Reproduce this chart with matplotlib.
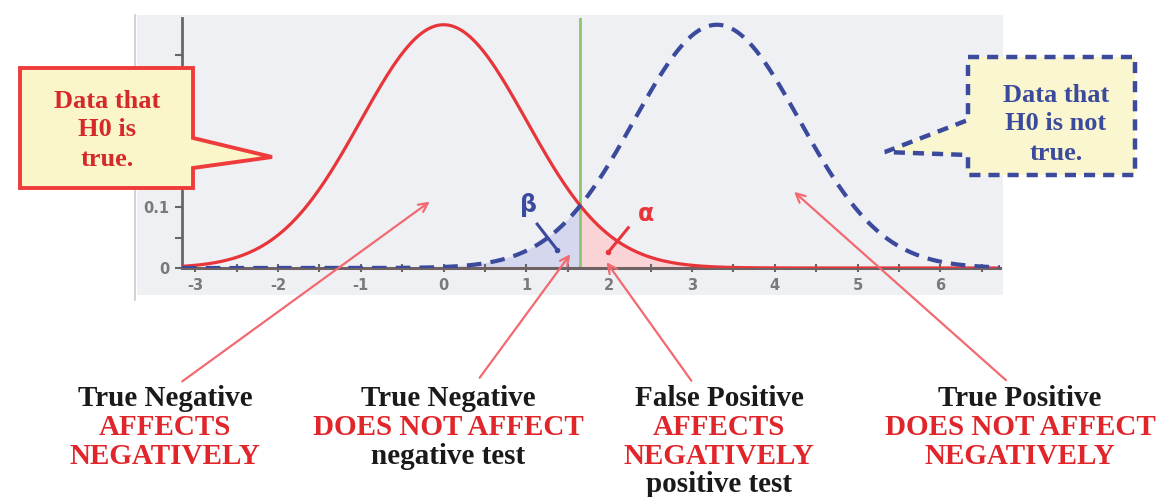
import numpy as np
import matplotlib
matplotlib.use("Agg")
from matplotlib import pyplot as plt
from matplotlib.patches import Polygon, Rectangle, FancyArrowPatch

# distributions shown in the chart
h0_mean, h0_sd = 0.0, 1.0
h1_mean, h1_sd = 3.3, 1.0
critical = 1.645

x_ticks = [-3, -2, -1, 0, 1, 2, 3, 4, 5, 6]
y_ticks = [0, 0.1, 0.2, 0.3]
y_tick_labels = ["0", "0.1", "", ""]  # upper labels sit under the callout

left_note = ["Data that", "H0 is", "true."]
right_note = ["Data that", "H0 is not", "true."]

captions = [
    [("True Negative", "k"), ("AFFECTS", "r"), ("NEGATIVELY", "r")],
    [("True Negative", "k"), ("DOES NOT AFFECT", "r"), ("negative test", "k")],
    [("False Positive", "k"), ("AFFECTS", "r"), ("NEGATIVELY", "r"), ("positive test", "k")],
    [("True Positive", "k"), ("DOES NOT AFFECT", "r"), ("NEGATIVELY", "r")],
]

W, H = 1160, 497
RED = "#e8353a"
BLUE = "#3b4a9c"
SERIF = ["Liberation Serif", "DejaVu Serif"]

plt.rcParams["axes.unicode_minus"] = False


def px(x, y):
    return (x / W, 1 - y / H)


def pdf(x, m, s):
    return np.exp(-0.5 * ((x - m) / s) ** 2) / (s * np.sqrt(2 * np.pi))


fig = plt.figure(figsize=(W / 100, H / 100), dpi=100)
fig.patch.set_facecolor("white")

# grey panel behind the plot
x0, y0 = px(137, 295)
x1, y1 = px(1003, 15)
fig.add_artist(Rectangle((x0, y0), x1 - x0, y1 - y0, transform=fig.transFigure,
                         facecolor="#eef0f4", edgecolor="none", zorder=-1))
fig.add_artist(plt.Line2D([135 / W, 135 / W], [1 - 300 / H, 1 - 15 / H],
                          transform=fig.transFigure, color="#c9c9c9", lw=1.2, zorder=-1))

ax = fig.add_axes([182 / W, 1 - 268 / H, (1000 - 182) / W, 250 / H])
ax.set_facecolor("#eef0f4")
ax.set_xlim(-3.16, 6.72)
ax.set_ylim(0, 0.41)

x = np.linspace(-3.16, 6.72, 600)
y0c = pdf(x, h0_mean, h0_sd)
y1c = pdf(x, h1_mean, h1_sd)

ax.fill_between(x, 0, y1c, where=x <= critical, color="#d5d7ee", zorder=1)
ax.fill_between(x, 0, y0c, where=x >= critical, color="#f9d3d6", zorder=1)
ax.axvline(critical, color="#8fc66c", lw=2, zorder=2)
ax.plot(x, y0c, color=RED, lw=2.3, zorder=3)
ax.plot(x, y1c, color=BLUE, lw=3, dashes=(3.5, 2.2), zorder=3)

# alpha / beta labels
ax.text(1.03, 0.103, "β", color=BLUE, fontsize=17, fontweight="bold", ha="center", va="center")
ax.plot([1.13, 1.37], [0.072, 0.030], color=BLUE, lw=2.2, zorder=4)
ax.plot([1.37], [0.030], "o", color=BLUE, ms=3, zorder=4)
ax.text(2.45, 0.088, "α", color=RED, fontsize=17, fontweight="bold", ha="center", va="center")
ax.plot([2.23, 1.99], [0.066, 0.026], color=RED, lw=2.2, zorder=4)
ax.plot([1.99], [0.026], "o", color=RED, ms=3, zorder=4)

for s in ["top", "right"]:
    ax.spines[s].set_visible(False)
ax.spines["bottom"].set_color("#6e6262")
ax.spines["bottom"].set_linewidth(2.2)
ax.spines["left"].set_color("#666666")
ax.spines["left"].set_linewidth(2)
ax.set_xticks(x_ticks)
ax.set_xticks(np.arange(-2.5, 6.6, 1.0), minor=True)
ax.set_yticks(y_ticks)
ax.set_yticklabels(y_tick_labels)
ax.set_yticks([0.05, 0.15, 0.25, 0.35], minor=True)
ax.tick_params(axis="x", which="both", direction="inout", length=6, width=1.5,
               colors="#666666", labelsize=10.5, pad=4)
ax.tick_params(axis="y", which="both", direction="out", length=5, width=1.5,
               colors="#666666", labelsize=10.5, pad=4)
for lab in ax.get_xticklabels() + ax.get_yticklabels():
    lab.set_fontweight("bold")
    lab.set_color("#7a7a7a")

# left callout (solid red)
left_poly = [(20, 68), (193, 68), (193, 138), (272, 157), (193, 168), (193, 188), (20, 188)]
fig.add_artist(Polygon([px(*p) for p in left_poly], closed=True, transform=fig.transFigure,
                       facecolor="#fbf6c9", edgecolor="#ee3b3b", lw=2.8, joinstyle="miter", zorder=5))
for i, line in enumerate(left_note):
    fig.text(*px(107, 101 + i * 29), line, color="#d42a2a", fontsize=19, fontweight="bold",
             family=SERIF, ha="center", va="center", zorder=6)

# right callout (dashed blue)
right_poly = [(968, 57), (1135, 57), (1135, 175), (968, 175), (968, 155), (885, 152), (968, 120)]
fig.add_artist(Polygon([px(*p) for p in right_poly], closed=True, transform=fig.transFigure,
                       facecolor="#f9f6d0", edgecolor=BLUE, lw=3.2, linestyle=(0, (2.5, 1.8)),
                       zorder=5))
for i, line in enumerate(right_note):
    fig.text(*px(1056, 95 + i * 29), line, color=BLUE, fontsize=19, fontweight="bold",
             family=SERIF, ha="center", va="center", zorder=6)

# arrows from captions to regions
arrows = [((180, 383), (432, 200)), ((478, 380), (572, 252)),
          ((693, 383), (605, 260)), ((1008, 382), (792, 190))]
for a, b in arrows:
    fig.add_artist(FancyArrowPatch(px(*a), px(*b), transform=fig.transFigure,
                                   arrowstyle="->", mutation_scale=16, color="#f26a70",
                                   lw=1.6, zorder=4))

# bottom captions
col_x = [165, 448, 719, 1020]
for cx, lines in zip(col_x, captions):
    for i, (txt, c) in enumerate(lines):
        fig.text(*px(cx, 399 + i * 28.5), txt, color="#1a1a1a" if c == "k" else "#e0262a",
                 fontsize=21, fontweight="bold", family=SERIF, ha="center", va="center")

plt.savefig("out.png", dpi=100)
